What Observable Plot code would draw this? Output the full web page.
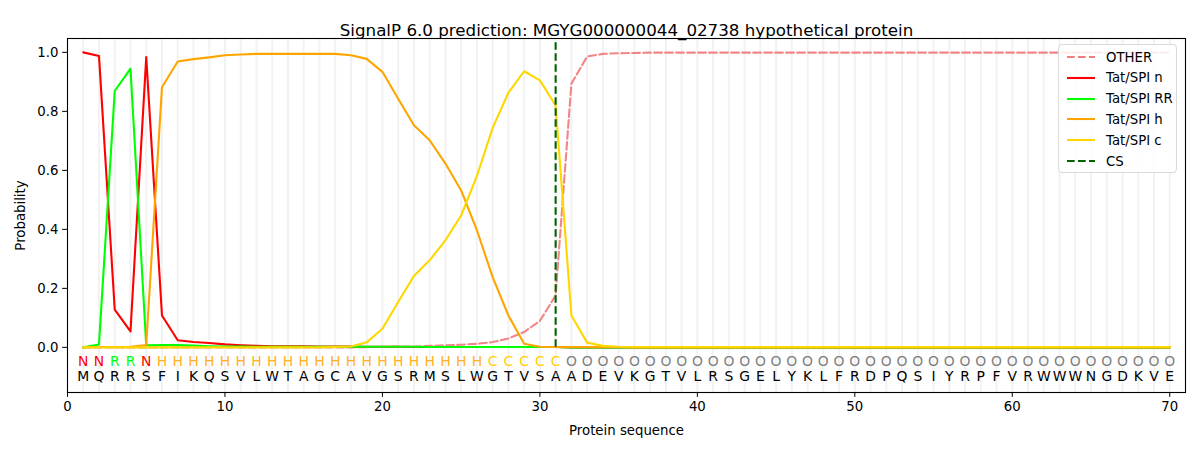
<!DOCTYPE html>
<html>
<head>
<meta charset="utf-8">
<script src="https://cdn.jsdelivr.net/npm/d3@7"></script>
<script src="https://cdn.jsdelivr.net/npm/@observablehq/plot@0.6"></script>
<style>
  html, body { margin: 0; padding: 0; background: #fff; }
  #wrap { position: relative; width: 1200px; height: 450px; font-family: "DejaVu Sans", sans-serif; }
  #legend { position: absolute; left: 1058px; top: 44px; width: 119px; height: 129px; border: 1px solid #d9d9d9; border-radius: 4px; background: rgba(255,255,255,0.85); box-sizing: border-box; font-size: 13.3px; color: #000; }
  #legend .row { position: absolute; left: 7px; height: 20px; display: flex; align-items: center; }
  #legend svg { margin-right: 10px; }
</style>
</head>
<body>
<div id="wrap"><div id="chart"></div><div id="legend"></div></div>
<script>
const title = "SignalP 6.0 prediction: MGYG000000044_02738 hypothetical protein";
const sequence = ["M","Q","R","R","S","F","I","K","Q","S","V","L","W","T","A","G","C","A","V","G","S","R","M","S","L","W","G","T","V","S","A","A","D","E","V","K","G","T","V","L","R","S","G","E","L","Y","K","L","F","R","D","P","Q","S","I","Y","R","P","F","V","R","W","W","W","N","G","D","K","V","E"];
const regionLabels = ["N","N","R","R","N","H","H","H","H","H","H","H","H","H","H","H","H","H","H","H","H","H","H","H","H","H","C","C","C","C","C","O","O","O","O","O","O","O","O","O","O","O","O","O","O","O","O","O","O","O","O","O","O","O","O","O","O","O","O","O","O","O","O","O","O","O","O","O","O","O"];

const other = [0,0,0,0,0,0,0,0,0,0,0,0,0,0,0,0,0,0,0.001,0.001,0.002,0.003,0.005,0.007,0.009,0.012,0.018,0.03,0.052,0.09,0.176,0.894,0.986,0.995,0.997,0.998,0.999,0.999,0.999,0.999,0.999,0.999,0.999,0.999,0.999,0.999,0.999,0.999,0.999,0.999,0.999,0.999,0.999,0.999,0.999,0.999,0.999,0.999,0.999,0.999,0.999,0.999,0.999,0.999,0.999,0.999,0.999,0.999,0.999,0.999];
const tatN = [1.0,0.988,0.128,0.054,0.984,0.108,0.024,0.018,0.015,0.010,0.007,0.005,0.004,0.004,0.004,0.003,0.003,0.003,0.002,0.002,0.002,0.001,0.001,0.001,0.001,0.001,0.001,0.001,0.001,0.001,0.001,0,0,0,0,0,0,0,0,0,0,0,0,0,0,0,0,0,0,0,0,0,0,0,0,0,0,0,0,0,0,0,0,0,0,0,0,0,0,0];
const tatRR = [0.0,0.01,0.869,0.945,0.007,0.008,0.008,0.006,0.004,0.003,0.003,0.002,0.002,0.002,0.002,0.002,0.002,0.002,0.002,0.002,0.002,0.002,0.001,0.001,0.001,0.001,0.001,0.001,0.001,0.001,0.001,0,0,0,0,0,0,0,0,0,0,0,0,0,0,0,0,0,0,0,0,0,0,0,0,0,0,0,0,0,0,0,0,0,0,0,0,0,0,0];
const tatH = [0.0,0.001,0.001,0.002,0.008,0.882,0.969,0.977,0.983,0.990,0.993,0.995,0.995,0.995,0.995,0.995,0.995,0.99,0.978,0.934,0.843,0.753,0.702,0.623,0.532,0.397,0.238,0.108,0.012,0.002,0.001,0.001,0.001,0.001,0.001,0,0,0,0,0,0,0,0,0,0,0,0,0,0,0,0,0,0,0,0,0,0,0,0,0,0,0,0,0,0,0,0,0,0,0];
const tatC = [0,0,0,0,0,0,0,0,0,0,0,0,0,0,0,0,0.001,0.003,0.017,0.063,0.154,0.242,0.295,0.363,0.447,0.581,0.744,0.863,0.936,0.905,0.82,0.108,0.016,0.005,0.002,0.001,0.001,0.001,0.001,0.001,0.001,0.001,0.001,0.001,0.001,0.001,0.001,0.001,0.001,0.001,0.001,0.001,0.001,0.001,0.001,0.001,0.001,0.001,0.001,0.001,0.001,0.001,0.001,0.001,0.001,0.001,0.001,0.001,0.001,0.001];
const csPosition = [31];
const xTicks = [0,10,20,30,40,50,60,70];
const yTicks = [0,0.2,0.4,0.6,0.8,1.0];

const seriesNames = ["OTHER","Tat/SPI n","Tat/SPI RR","Tat/SPI h","Tat/SPI c"];
const seriesValues = [other, tatN, tatRR, tatH, tatC];
const seriesColors = ["#f08080","#ff0000","#00ff00","#ffa500","#ffd700"];
const labelColors = {N: "#ff0000", R: "#00ff00", H: "#ffb020", C: "#ffd000", O: "#808080"};

const positions = sequence.map((_, i) => i + 1);
const rows = [];
seriesNames.forEach((name, s) => seriesValues[s].forEach((v, i) => rows.push({series: name, pos: i + 1, p: v})));
const seqRows = positions.map((pos, i) => ({pos, aa: sequence[i], lab: regionLabels[i]}));

const lineFor = (name, idx, extra = {}) => Plot.line(rows.filter(r => r.series === name), {x: "pos", y: "p", stroke: seriesColors[idx], strokeWidth: 2.1, ...extra});

const chart = Plot.plot({
  width: 1200,
  height: 450,
  marginLeft: 67,
  marginRight: 15,
  marginTop: 38,
  marginBottom: 58,
  style: {fontFamily: "DejaVu Sans, sans-serif", fontSize: "13.3px", color: "#000", background: "#fff"},
  x: {domain: [0, 71], ticks: xTicks, tickFormat: d => String(d), label: "Protein sequence", labelAnchor: "center", labelArrow: "none", labelOffset: 42, tickSize: 4.9, tickPadding: 4},
  y: {domain: [-0.153, 1.047], ticks: yTicks, tickFormat: d => d.toFixed(1), label: "Probability", labelAnchor: "center", labelArrow: "none", labelOffset: 56, tickSize: 4.9, tickPadding: 4},
  marks: [
    Plot.ruleX(positions, {x: d => d, stroke: "#f2f2f2", strokeWidth: 2}),
    lineFor("OTHER", 0, {strokeDasharray: "7.7,3.3", strokeOpacity: 0.95}),
    lineFor("Tat/SPI n", 1),
    lineFor("Tat/SPI RR", 2),
    lineFor("Tat/SPI h", 3),
    lineFor("Tat/SPI c", 4),
    Plot.ruleX(csPosition, {x: d => d, y1: 0, y2: 1.047, stroke: "#006400", strokeWidth: 2.1, strokeDasharray: "7.7,3.3"}),
    Plot.text(seqRows, {x: "pos", y: -0.047, text: "lab", fill: d => labelColors[d.lab], fontSize: 13.9}),
    Plot.text(seqRows, {x: "pos", y: -0.099, text: "aa", fill: "#000", fontSize: 13.9}),
    Plot.text([title], {frameAnchor: "top", dy: -14, text: d => d, fontSize: 16.7, fill: "#000"}),
    Plot.frame({stroke: "#000", strokeWidth: 1.1}),
    Plot.axisX({ticks: xTicks, tickFormat: d => String(d), label: "Protein sequence", labelAnchor: "center", labelArrow: "none", labelOffset: 42, tickSize: 4.9, fontSize: 13.3}),
    Plot.axisY({ticks: yTicks, tickFormat: d => d.toFixed(1), label: "Probability", labelAnchor: "center", labelArrow: "none", labelOffset: 52, tickSize: 4.9, fontSize: 13.3})
  ]
});
document.getElementById("chart").appendChild(chart);

// Legend
const legendEntries = [
  {name: "OTHER", color: "#f08080", dash: "7.7,3.3"},
  {name: "Tat/SPI n", color: "#ff0000", dash: null},
  {name: "Tat/SPI RR", color: "#00ff00", dash: null},
  {name: "Tat/SPI h", color: "#ffa500", dash: null},
  {name: "Tat/SPI c", color: "#ffd700", dash: null},
  {name: "CS", color: "#006400", dash: "7.7,3.3"}
];
const legend = document.getElementById("legend");
legendEntries.forEach((e, i) => {
  const row = document.createElement("div");
  row.className = "row";
  row.style.top = (2 + i * 20.8) + "px";
  row.innerHTML = `<svg width="30" height="6"><line x1="1" y1="3" x2="29" y2="3" stroke="${e.color}" stroke-width="2.1" ${e.dash ? `stroke-dasharray="${e.dash}"` : ""}/></svg><span>${e.name}</span>`;
  legend.appendChild(row);
});
</script>
</body>
</html>
